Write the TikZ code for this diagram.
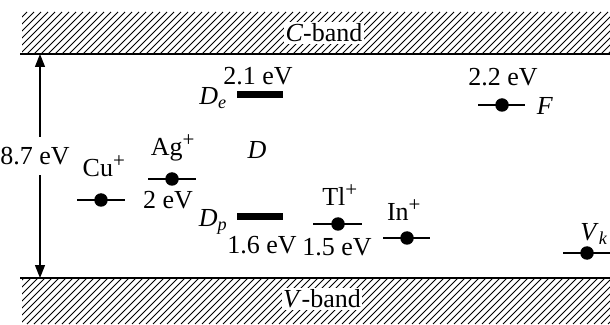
\documentclass[tikz,border=0pt]{standalone}
\usepackage{fontspec}
\setmainfont{Liberation Serif}
\usetikzlibrary{arrows.meta}
\newcommand{\plus}{\textsuperscript{\fontsize{21}{22}\selectfont +}}
\begin{document}
\begin{tikzpicture}[x=1pt,y=1pt,
  lbl/.style={font=\fontsize{26}{30}\selectfont, inner sep=1pt},
  bandlbl/.style={font=\fontsize{26}{30}\selectfont, fill=white, inner sep=1.5pt},
  lvl/.style={line width=1.9pt},
  dot/.style={circle, fill=black, inner sep=0pt, minimum size=13.5pt},
  bar/.style={fill=black, draw=none, inner sep=0pt, minimum width=46pt, minimum height=7pt},
  hatch/.style={line width=0.9pt},
  edge/.style={line width=2.4pt},
  gap/.style={<->, >={Triangle[width=10pt,length=13pt]}, line width=1.3pt}]
\useasboundingbox (0,0) rectangle (610,324);
% conduction band hatch
\begin{scope}
  \clip (22,270) rectangle (610,312);
  \foreach \x in {-50,-43,...,640} \draw[hatch] (\x,270) -- ++(42,42);
\end{scope}
\begin{scope}
  \clip (22,0) rectangle (610,46);
  \foreach \x in {-50,-43,...,640} \draw[hatch] (\x,0) -- ++(46,46);
\end{scope}
\coordinate (cl) at (20,270); \coordinate (cr) at (610,270);
\coordinate (vl) at (20,46);  \coordinate (vr) at (610,46);
\draw[edge] (cl) -- (cr);
\draw[edge] (vl) -- (vr);
\node[bandlbl] (cband) at (324,291) {\textit{C}-band};
\node[bandlbl] (vband) at (322,25) {\textit{V}-band};
% gap arrow
\coordinate (gt) at (40,270); \coordinate (gb) at (40,46);
\draw[gap] (gt) -- (gb);
\node[lbl, fill=white, inner xsep=1pt, inner ysep=10pt] (gap) at (35,168) {8.7 eV};
% Cu+
\coordinate (cu1) at (77,124); \coordinate (cu2) at (125,124);
\draw[lvl] (cu1) -- (cu2);
\node[dot] (cu) at (101,124) {};
\node[lbl] (culbl) at (104,158) {Cu\plus};
% Ag+
\coordinate (ag1) at (148,145); \coordinate (ag2) at (196,145);
\draw[lvl] (ag1) -- (ag2);
\node[dot] (ag) at (172,145) {};
\node[lbl] (aglbl) at (173,176) {Ag\plus};
\node[lbl] (age) at (168,124) {2 eV};
% D centres
\node[bar] (de) at (260,229) {};
\node[lbl] (delbl) at (213,226) {\textit{D}\textsubscript{\textit{e}}};
\node[lbl] (dee) at (258,248) {2.1 eV};
\node[lbl] (d) at (257,174) {\textit{D}};
\node[bar] (dp) at (260,107) {};
\node[lbl] (dplbl) at (213,102) {\textit{D}\textsubscript{\textit{p}}};
\node[lbl] (dpe) at (262,79) {1.6 eV};
% F
\coordinate (f1) at (478,219); \coordinate (f2) at (525,219);
\draw[lvl] (f1) -- (f2);
\node[dot] (f) at (502,219) {};
\node[lbl] (flbl) at (545,218) {\textit{F}};
\node[lbl] (fe) at (503,247) {2.2 eV};
% Tl+
\coordinate (tl1) at (313,100); \coordinate (tl2) at (362,100);
\draw[lvl] (tl1) -- (tl2);
\node[dot] (tl) at (338,100) {};
\node[lbl] (tllbl) at (340,129) {Tl\plus};
\node[lbl] (tle) at (337,77) {1.5 eV};
% In+
\coordinate (in1) at (383,86); \coordinate (in2) at (430,86);
\draw[lvl] (in1) -- (in2);
\node[dot] (in) at (407,86) {};
\node[lbl] (inlbl) at (404,114) {In\plus};
% Vk
\coordinate (vk1) at (563,71); \coordinate (vk2) at (610,71);
\draw[lvl] (vk1) -- (vk2);
\node[dot] (vk) at (587,71) {};
\node[lbl] (vklbl) at (594,90) {\textit{V}\textsubscript{\textit{k}}};
\end{tikzpicture}
\end{document}
